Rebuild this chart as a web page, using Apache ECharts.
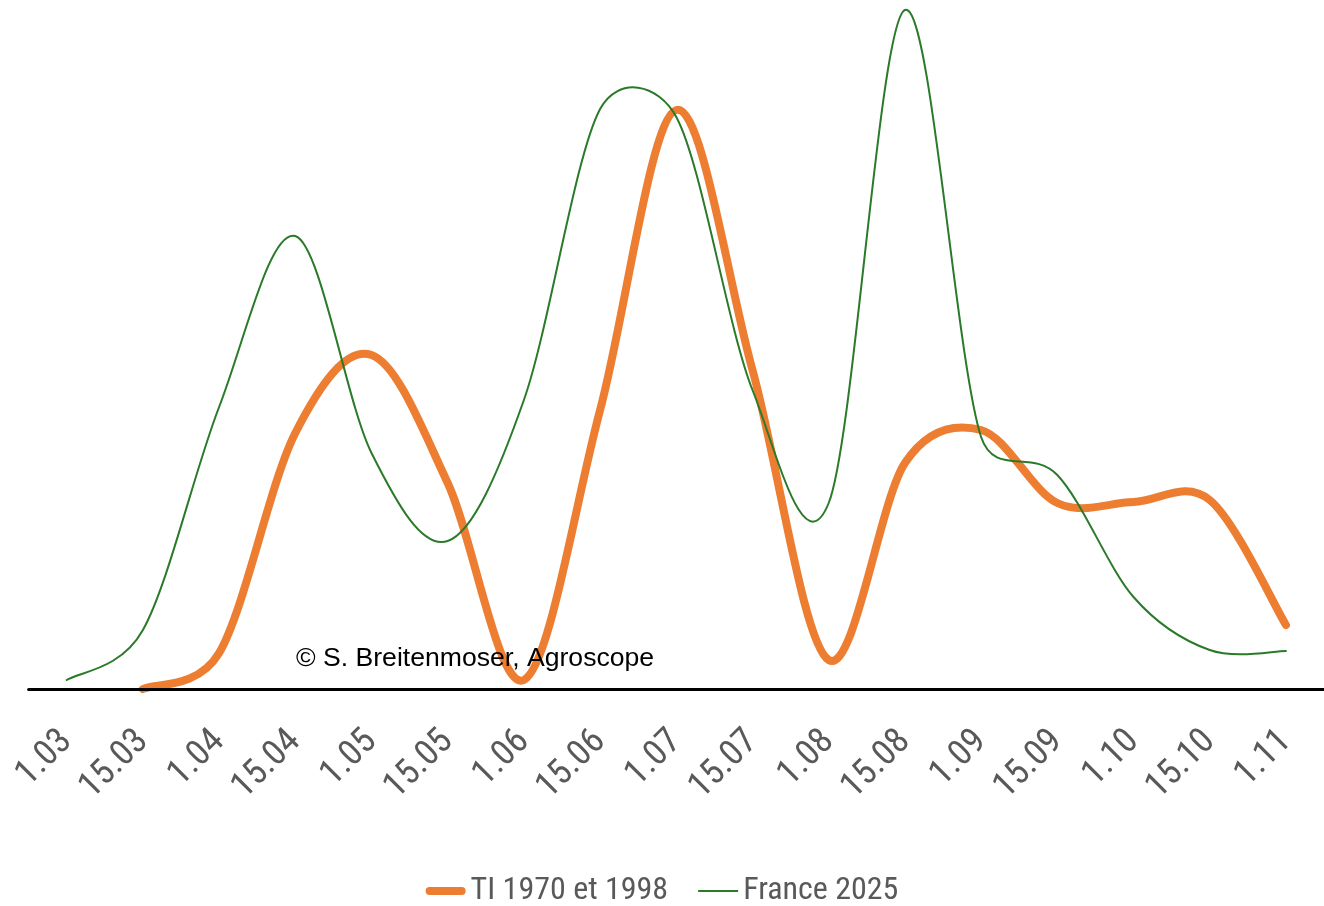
<!DOCTYPE html>
<html>
<head>
<meta charset="utf-8">
<script src="https://cdn.jsdelivr.net/npm/echarts@6/dist/echarts.min.js"></script>
<style>
html,body{margin:0;padding:0;background:#fff;}
#chart{width:1324px;height:906px;}
</style>
</head>
<body>
<div id="chart"></div>
<script>
const categories = ['1.03','15.03','1.04','15.04','1.05','15.05','1.06','15.06','1.07','15.07','1.08','15.08','1.09','15.09','1.10','15.10','1.11'];
const tiValues = [null, 0, 1.8, 12.8, 16.7, 10.3, 0.45, 13.95, 28.95, 15.95, 1.45, 11.3, 12.95, 9.3, 9.35, 9.45, 3.2];
const franceValues = [0.45, 2.95, 14.1, 22.65, 11.8, 7.4, 14.45, 29.0, 28.6, 14.95, 9.3, 33.95, 12.6, 10.7, 4.6, 1.95, 1.9];
const seriesNames = ['TI 1970 et 1998', 'France 2025'];
const credit = '© S. Breitenmoser, Agroscope';

const labelFont = '"Roboto Condensed", "Liberation Sans Narrow", sans-serif';

function dist(a, b) { return Math.hypot(b[0] - a[0], b[1] - a[1]); }

// Smoothed curve through points (Bezier, tension 1/6 limited to half chord)
function smoothPath(pts) {
  let d = 'M' + pts[0][0] + ',' + pts[0][1];
  for (let i = 0; i < pts.length - 1; i++) {
    const p0 = pts[i - 1] || pts[i];
    const p1 = pts[i];
    const p2 = pts[i + 1];
    const p3 = pts[i + 2] || pts[i + 1];
    const d12 = dist(p1, p2), d02 = dist(p0, p2), d13 = dist(p1, p3);
    let f = 1 / 6, g = 1 / 6;
    if (d02 > 0 && d02 / 6 > d12 / 2) f = d12 / (2 * d02);
    if (d13 > 0 && d13 / 6 > d12 / 2) g = d12 / (2 * d13);
    const c1 = [p1[0] + f * (p2[0] - p0[0]), p1[1] + f * (p2[1] - p0[1])];
    const c2 = [p2[0] - g * (p3[0] - p1[0]), p2[1] - g * (p3[1] - p1[1])];
    d += ' C' + c1[0] + ',' + c1[1] + ' ' + c2[0] + ',' + c2[1] + ' ' + p2[0] + ',' + p2[1];
  }
  return d;
}

function curveSeries(name, values, color, width, z) {
  return {
    name: name,
    type: 'custom',
    z: z,
    itemStyle: { color: color },
    data: [[0, 0]],
    encode: { x: 0, y: 1 },
    renderItem: function (params, api) {
      const pts = [];
      values.forEach(function (v, i) {
        if (v !== null && v !== undefined) pts.push(api.coord([i, v]));
      });
      return {
        type: 'path',
        shape: { pathData: smoothPath(pts) },
        style: { stroke: color, lineWidth: width, fill: 'none', lineCap: 'round', lineJoin: 'round' }
      };
    }
  };
}

const chart = echarts.init(document.getElementById('chart'));
chart.setOption({
  animation: false,
  backgroundColor: '#ffffff',
  grid: { left: 28.6, right: -10.2, top: 9, bottom: 217, containLabel: false },
  xAxis: {
    type: 'category',
    data: categories,
    boundaryGap: true,
    z: 5,
    axisLine: { lineStyle: { color: '#000000', width: 3 } },
    axisTick: { show: false },
    axisLabel: {
      rotate: 45,
      margin: 47,
      interval: 0,
      fontSize: 36,
      fontFamily: labelFont,
      color: '#595959'
    }
  },
  yAxis: {
    type: 'value', min: 0, max: 34, show: false,
    splitLine: { show: false }
  },
  legend: {
    top: 870,
    left: 'center',
    itemWidth: 40,
    itemHeight: 14,
    itemGap: 30,
    textStyle: { fontSize: 32, fontFamily: labelFont, color: '#595959' },
    data: [
      { name: seriesNames[0], icon: 'path://M4,0H36A4,4 0 0 1 36,8H4A4,4 0 0 1 4,0Z' },
      { name: seriesNames[1], icon: 'path://M0,0H40V2H0Z' }
    ]
  },
  series: [
    curveSeries(seriesNames[0], tiValues, '#ED7D31', 8, 3),
    curveSeries(seriesNames[1], franceValues, '#2A7A2A', 2, 4)
  ],
  graphic: [{
    type: 'text', left: 296, top: 645, z: 10,
    style: { text: credit, fontSize: 26.6, fontFamily: '"Liberation Sans", Arial, sans-serif', fill: '#000000' }
  }]
});
</script>
</body>
</html>
